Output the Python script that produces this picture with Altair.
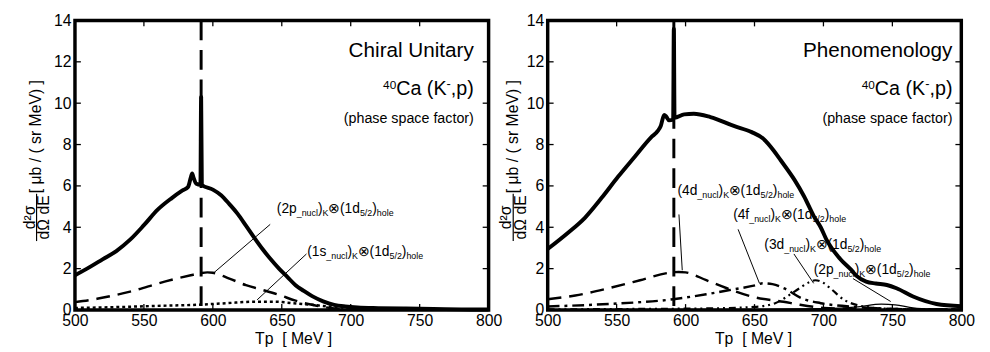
import altair as alt
import pandas as pd

# ---------------- data ----------------
# Left panel : Chiral Unitary
chiral_total_tp = [500, 510, 520, 530, 540, 550, 560, 570, 578, 582, 584, 585, 586, 588, 591, 591.5, 592,
                   600, 606, 612, 618, 624, 630, 636, 642, 648, 654, 660, 666, 672, 680, 688, 696, 705,
                   720, 740, 760, 780, 800]
chiral_total_val = [1.68, 2.05, 2.45, 2.85, 3.4, 4.1, 4.85, 5.4, 5.78, 5.95, 6.4, 6.6, 6.4, 6.1, 6.05, 10.3, 6.05,
                    5.82, 5.55, 5.12, 4.65, 4.08, 3.5, 2.95, 2.45, 2.0, 1.6, 1.2, 0.92, 0.67, 0.42, 0.25, 0.17, 0.12,
                    0.09, 0.07, 0.05, 0.03, 0.02]
chiral_2p_tp = [500, 516, 540, 565, 584, 591, 596, 600, 612, 624, 636, 648, 660, 672, 685, 700, 720, 800]
chiral_2p_val = [0.38, 0.54, 0.89, 1.37, 1.68, 1.78, 1.82, 1.8, 1.52, 1.2, 0.97, 0.73, 0.45, 0.25, 0.1, 0.04, 0.02, 0.01]
chiral_1s_tp = [500, 530, 560, 591, 610, 630, 645, 658, 672, 687, 700, 720, 800]
chiral_1s_val = [0.1, 0.14, 0.2, 0.26, 0.33, 0.4, 0.4, 0.33, 0.25, 0.15, 0.08, 0.03, 0.01]

# Right panel : Phenomenology
phen_total_tp = [500, 515, 527, 539, 551, 563, 575, 580, 582, 584.5, 586, 588, 591, 591.5, 592, 599, 606, 618,
                 635, 648, 656, 664, 669, 679, 686, 693, 698, 702, 712, 720, 724, 731, 738, 746, 753, 765, 782, 800]
phen_total_val = [2.95, 3.75, 4.46, 5.41, 6.44, 7.4, 8.35, 8.67, 8.9, 9.43, 9.35, 9.17, 9.2, 13.6, 9.3, 9.46, 9.49,
                  9.33, 8.9, 8.6, 8.3, 7.7, 7.24, 6.29, 5.49, 4.54, 4.0, 3.43, 2.48, 1.95, 1.65, 1.37, 1.28, 1.21,
                  1.05, 0.65, 0.29, 0.18]
phen_4d_tp = [500, 520, 544, 567, 587, 595, 600, 615, 630, 651, 671, 683, 700, 720, 800]
phen_4d_val = [0.52, 0.7, 1.05, 1.44, 1.79, 1.84, 1.82, 1.44, 1.05, 0.6, 0.4, 0.25, 0.1, 0.05, 0.02]
phen_4f_tp = [500, 544, 591, 615, 635, 651, 656, 663, 672, 684, 698, 717, 740, 770, 800]
phen_4f_val = [0.17, 0.29, 0.52, 0.76, 1.0, 1.2, 1.29, 1.25, 1.03, 0.57, 0.33, 0.18, 0.08, 0.03, 0.02]
phen_3d_tp = [500, 560, 620, 650, 665, 679, 690, 694, 699, 705, 715, 727, 745, 770, 800]
phen_3d_val = [0.03, 0.05, 0.08, 0.15, 0.33, 0.89, 1.35, 1.44, 1.35, 1.05, 0.49, 0.2, 0.07, 0.03, 0.02]
phen_2p_tp = [500, 650, 700, 725, 742, 752, 765, 780, 800]
phen_2p_val = [0.02, 0.03, 0.06, 0.15, 0.28, 0.25, 0.1, 0.04, 0.02]

threshold_tp = [591.5]

# component labels (orbital name, start Tp, baseline value)
left_label_names = ["2p", "1s"]
left_label_tp = [646.4, 668.4]
left_label_val = [4.7, 2.63]
right_label_names = ["4d", "4f", "3d", "2p"]
right_label_tp = [594.1, 634.5, 657.1, 692.9]
right_label_val = [5.57, 4.38, 2.95, 1.76]

# leader lines (from label to curve)
left_lead_tp1 = [641.6, 667.9]
left_lead_v1 = [4.14, 2.71]
left_lead_tp2 = [600.0, 632.1]
left_lead_v2 = [1.76, 0.49]
right_lead_tp1 = [595.2, 638.1, 678.6, 721.4]
right_lead_v1 = [4.62, 3.9, 2.71, 1.52]
right_lead_tp2 = [597.6, 653.6, 692.9, 748.8]
right_lead_v2 = [1.92, 1.29, 1.29, 0.41]

x_ticks = [500, 550, 600, 650, 700, 750, 800]
y_ticks = [0, 2, 4, 6, 8, 10, 12, 14]
x_inner_ticks = [550, 600, 650, 700, 750]
y_inner_ticks = [2, 4, 6, 8, 10, 12]

# ---------------- layout helpers ----------------
W_PX, H_PX = 420, 294
X_DOM, Y_DOM = [500, 800], [0, 14]
PX2X = (X_DOM[1] - X_DOM[0]) / W_PX
PX2Y = (Y_DOM[1] - Y_DOM[0]) / H_PX

FONT = "Liberation Sans, Arial, Helvetica, sans-serif"

EM = {"(": .333, ")": .333, "_": .556, "/": .278, " ": .278, ",": .278, "-": .333,
      "p": .556, "d": .556, "f": .278, "s": .5, "n": .556, "u": .556, "c": .5, "l": .222,
      "h": .556, "o": .556, "e": .556, "a": .556, "K": .667, "C": .722}


def tw(s, size):
    t = 0.0
    for ch in s:
        if ch == "⊗":
            t += 0.84 * size
        else:
            t += EM.get(ch, 0.556) * size
    return t


LAB_MAIN, LAB_SUB, SUB_DROP = 14, 9, 3


def label_rows(name, tp0, v0):
    segs = [("(" + name, "m"), ("_nucl", "s"), (")", "m"), ("K", "s"), ("⊗", "m"),
            ("(1d", "m"), ("5/2", "s"), (")", "m"), ("hole", "s")]
    rows, cur = [], 0.0
    for t, kind in segs:
        size = LAB_MAIN if kind == "m" else LAB_SUB
        drop = 0 if kind == "m" else SUB_DROP
        rows.append(dict(x=tp0 + cur * PX2X, y=v0 - drop * PX2Y, text=t, size=size))
        cur += tw(t, size)
    return rows


def reaction_rows(right_px, base_px):
    segs = [("40", 12, 6), ("Ca (K", 20, 0), ("-", 13, 7), (",p)", 20, 0)]
    total = sum(tw(t, s) for t, s, _ in segs)
    cur = right_px - total
    rows = []
    for t, s, up in segs:
        rows.append(dict(x=X_DOM[0] + cur * PX2X, y=(H_PX - base_px + up) * PX2Y, text=t, size=s))
        cur += tw(t, s)
    return rows


xs = alt.Scale(domain=X_DOM, nice=False, zero=False)
ys = alt.Scale(domain=Y_DOM, nice=False, zero=False)
xax = alt.Axis(values=x_ticks, format="d", labelFlush=False, labelOverlap=False, labelPadding=3,
               ticks=False, tickSize=0, domain=False, grid=False, labelFontSize=16, labelFont=FONT,
               labelColor="black", title=None)
yax = alt.Axis(values=y_ticks, format="d", labelFlush=False, labelOverlap=False, labelPadding=4,
               ticks=False, tickSize=0, domain=False, grid=False, labelFontSize=16, labelFont=FONT,
               labelColor="black", title=None)
X = lambda f: alt.X(f, scale=xs, axis=xax, title=None)
Y = lambda f: alt.Y(f, scale=ys, axis=yax, title=None)


def curve(tp, val, **style):
    df = pd.DataFrame({"tp": tp, "val": val})
    return alt.Chart(df).mark_line(color="black", interpolate="monotone", strokeJoin="round",
                                   **style).encode(x=X("tp:Q"), y=Y("val:Q"))


def one():
    return pd.DataFrame({"k": [0]})


def panel(curves, lab_names, lab_tp, lab_val, l1x, l1y, l2x, l2y, title, right_px, yshift, xtitle_x):
    layers = []
    # threshold line
    layers.append(alt.Chart(pd.DataFrame({"tp": threshold_tp})).mark_rule(
        color="black", strokeWidth=3, strokeDash=[20, 10]).encode(x=X("tp:Q")))
    layers += curves
    # leader lines
    lead = pd.DataFrame({"x1": l1x, "y1": l1y, "x2": l2x, "y2": l2y})
    layers.append(alt.Chart(lead).mark_rule(color="black", strokeWidth=1).encode(
        x=X("x1:Q"), y=Y("y1:Q"), x2="x2:Q", y2="y2:Q"))
    # labels
    rows = []
    for n, t, v in zip(lab_names, lab_tp, lab_val):
        rows += label_rows(n, t, v)
    layers.append(alt.Chart(pd.DataFrame(rows)).mark_text(
        align="left", baseline="alphabetic", font=FONT, color="black").encode(
        x=X("x:Q"), y=Y("y:Q"), text="text:N", size=alt.Size("size:Q", scale=None)))
    # titles
    tx = X_DOM[0] + right_px * PX2X
    tdf = pd.DataFrame({"x": [tx, tx], "y": [(H_PX - 37) * PX2Y, (H_PX - 103.7) * PX2Y],
                        "text": [title, "(phase space factor)"], "size": [21, 14.5]})
    layers.append(alt.Chart(tdf).mark_text(align="right", baseline="alphabetic", font=FONT,
                                           color="black").encode(
        x=X("x:Q"), y=Y("y:Q"), text="text:N", size=alt.Size("size:Q", scale=None)))
    layers.append(alt.Chart(pd.DataFrame(reaction_rows(right_px, 75.3))).mark_text(
        align="left", baseline="alphabetic", font=FONT, color="black").encode(
        x=X("x:Q"), y=Y("y:Q"), text="text:N", size=alt.Size("size:Q", scale=None)))
    # inner ticks
    tk = dict(color="black", strokeWidth=1.3)
    xt = pd.DataFrame({"v": x_inner_ticks})
    yt = pd.DataFrame({"v": y_inner_ticks})
    layers.append(alt.Chart(xt).mark_rule(**tk).encode(x=X("v:Q"), y=alt.value(0), y2=alt.value(6)))
    layers.append(alt.Chart(xt).mark_rule(**tk).encode(x=X("v:Q"), y=alt.value(H_PX - 6), y2=alt.value(H_PX)))
    layers.append(alt.Chart(yt).mark_rule(**tk).encode(y=Y("v:Q"), x=alt.value(0), x2=alt.value(6)))
    layers.append(alt.Chart(yt).mark_rule(**tk).encode(y=Y("v:Q"), x=alt.value(W_PX - 6), x2=alt.value(W_PX)))
    # y title (fraction + units), rotated
    yt_style = dict(font=FONT, fontSize=16, angle=270, align="center", baseline="alphabetic", color="black")
    layers.append(alt.Chart(one()).mark_text(text="d²σ", **yt_style).encode(
        x=alt.value(-41 + yshift), y=alt.value(200)))
    layers.append(alt.Chart(one()).mark_rule(color="black", strokeWidth=1.2).encode(
        x=alt.value(-39 + yshift), y=alt.value(176), y2=alt.value(224)))
    layers.append(alt.Chart(one()).mark_text(text="dΩ dE", **yt_style).encode(
        x=alt.value(-26 + yshift), y=alt.value(200)))
    layers.append(alt.Chart(one()).mark_text(text="[ μb / ( sr MeV) ]", **yt_style).encode(
        x=alt.value(-34 + yshift), y=alt.value(118)))
    # x title
    layers.append(alt.Chart(one()).mark_text(text="Tp\u00a0\u00a0[ MeV ]", font=FONT, fontSize=16,
                                             align="center", baseline="alphabetic", color="black").encode(
        x=alt.value(xtitle_x), y=alt.value(328.7)))
    return alt.layer(*layers).properties(width=W_PX, height=H_PX)


left = panel(
    [curve(chiral_total_tp, chiral_total_val, strokeWidth=4),
     curve(chiral_2p_tp, chiral_2p_val, strokeWidth=2.5, strokeDash=[14, 8]),
     curve(chiral_1s_tp, chiral_1s_val, strokeWidth=2.5, strokeDash=[3, 3])],
    left_label_names, left_label_tp, left_label_val,
    left_lead_tp1, left_lead_v1, left_lead_tp2, left_lead_v2,
    "Chiral Unitary", 405, 0, 222)

right = panel(
    [curve(phen_total_tp, phen_total_val, strokeWidth=4),
     curve(phen_4d_tp, phen_4d_val, strokeWidth=2.5, strokeDash=[14, 8]),
     curve(phen_4f_tp, phen_4f_val, strokeWidth=2.5, strokeDash=[12, 5, 3, 5]),
     curve(phen_3d_tp, phen_3d_val, strokeWidth=2.2, strokeDash=[7, 4, 2, 4, 2, 4]),
     curve(phen_2p_tp, phen_2p_val, strokeWidth=1.3)],
    right_label_names, right_label_tp, right_label_val,
    right_lead_tp1, right_lead_v1, right_lead_tp2, right_lead_v2,
    "Phenomenology", 411, 4, 209)

chart = alt.hconcat(left, right, spacing=60, bounds="flush").properties(
    padding={"left": 12, "top": 0, "right": 5, "bottom": 0},
    background="white",
).configure_view(stroke="black", strokeWidth=3.5)

chart.save("out.html", embed_options={"renderer": "svg", "actions": False})
